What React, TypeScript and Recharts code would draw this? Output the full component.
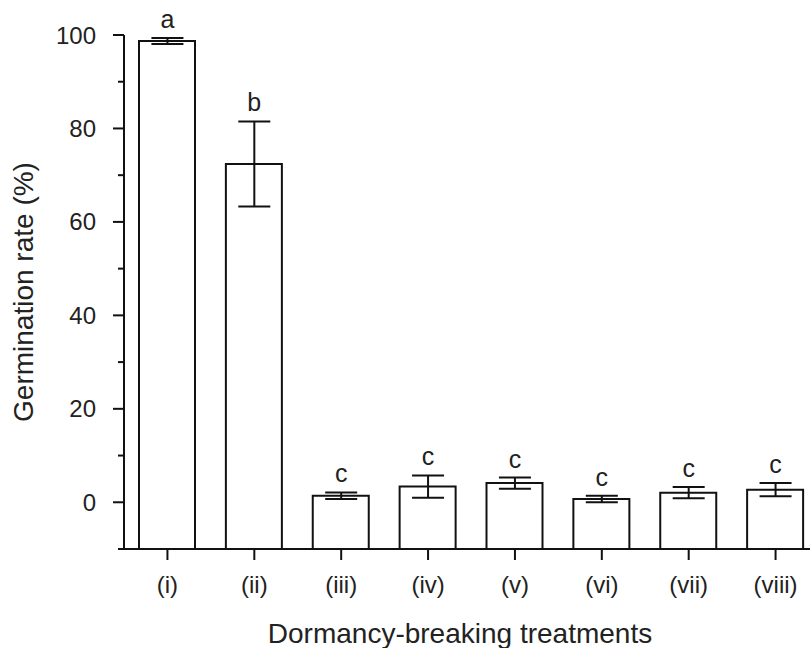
import React from "react";
import {
  ComposedChart,
  Bar,
  Line,
  ErrorBar,
  LabelList,
  XAxis,
  YAxis,
} from "recharts";

const treatments = ["(i)", "(ii)", "(iii)", "(iv)", "(v)", "(vi)", "(vii)", "(viii)"];
const germination = [98.7, 72.4, 1.4, 3.35, 4.1, 0.7, 2.05, 2.7];
const errors = [0.65, 9.1, 0.7, 2.4, 1.2, 0.7, 1.2, 1.4];
const letters = ["a", "b", "c", "c", "c", "c", "c", "c"];
const yTicks = [-10, 0, 10, 20, 30, 40, 50, 60, 70, 80, 90, 100];
const yMin = -10;
const yMax = 100;

// bars are drawn from the bottom of the axis (-10) up to the mean
const data = treatments.map((t, i) => ({
  name: t,
  span: [yMin, germination[i]],
  rate: germination[i],
  err: errors[i],
  top: germination[i] + errors[i],
  letter: letters[i],
}));

const FONT = '"Liberation Sans", Arial, Helvetica, sans-serif';
const INK = "#111";
const TEXT = "#222";

// major ticks every 20 get a label, the rest are short minor ticks
const YTick = (props: any) => {
  const { x, y, payload } = props;
  const major = payload.value % 20 === 0 && payload.value >= 0;
  return (
    <g>
      <line x1={x} y1={y} x2={x - (major ? 11 : 6)} y2={y} stroke={INK} strokeWidth={2} />
      {major && (
        <text
          x={x - 28}
          y={y}
          textAnchor="end"
          dominantBaseline="central"
          fontSize={24}
          fontFamily={FONT}
          fill={TEXT}
        >
          {payload.value}
        </text>
      )}
    </g>
  );
};

const XTick = (props: any) => {
  const { x, y, payload } = props;
  return (
    <g>
      <line x1={x} y1={y} x2={x} y2={y + 11} stroke={INK} strokeWidth={2} />
      <text x={x} y={y + 44} textAnchor="middle" fontSize={24} fontFamily={FONT} fill={TEXT}>
        {payload.value}
      </text>
    </g>
  );
};

export default function App() {
  return (
    <div
      style={{
        position: "absolute",
        left: 0,
        top: 0,
        width: 810,
        height: 648,
        overflow: "hidden",
        background: "#fff",
      }}
    >
      <ComposedChart
        width={820}
        height={648}
        data={data}
        margin={{ top: 35, right: 1, left: 0, bottom: 0 }}
      >
        <XAxis
          dataKey="name"
          height={99}
          tickSize={0}
          tickMargin={0}
          tickLine={false}
          axisLine={{ stroke: INK, strokeWidth: 2 }}
          tick={<XTick />}
          interval={0}
        />
        <YAxis
          width={124}
          domain={[yMin, yMax]}
          ticks={yTicks}
          allowDataOverflow
          tickSize={0}
          tickMargin={0}
          tickLine={false}
          axisLine={{ stroke: INK, strokeWidth: 2 }}
          tick={<YTick />}
          interval={0}
        />
        <Bar
          dataKey="span"
          barSize={56}
          fill="#fff"
          stroke={INK}
          strokeWidth={2}
          isAnimationActive={false}
        />
        <Line
          dataKey="rate"
          stroke="none"
          dot={false}
          activeDot={false}
          isAnimationActive={false}
        >
          <ErrorBar dataKey="err" width={16} stroke={INK} strokeWidth={2} />
        </Line>
        <Line
          dataKey="top"
          stroke="none"
          dot={false}
          activeDot={false}
          isAnimationActive={false}
        >
          <LabelList
            dataKey="letter"
            position="top"
            offset={10}
            fontSize={25}
            fontFamily={FONT}
            fill={TEXT}
          />
        </Line>
        <text
          x={460}
          y={643}
          textAnchor="middle"
          fontSize={28}
          fontFamily={FONT}
          fill={TEXT}
        >
          Dormancy-breaking treatments
        </text>
        <text
          x={33}
          y={292}
          textAnchor="middle"
          transform="rotate(-90 33 292)"
          fontSize={28}
          fontFamily={FONT}
          fill={TEXT}
        >
          Germination rate (%)
        </text>
      </ComposedChart>
    </div>
  );
}
